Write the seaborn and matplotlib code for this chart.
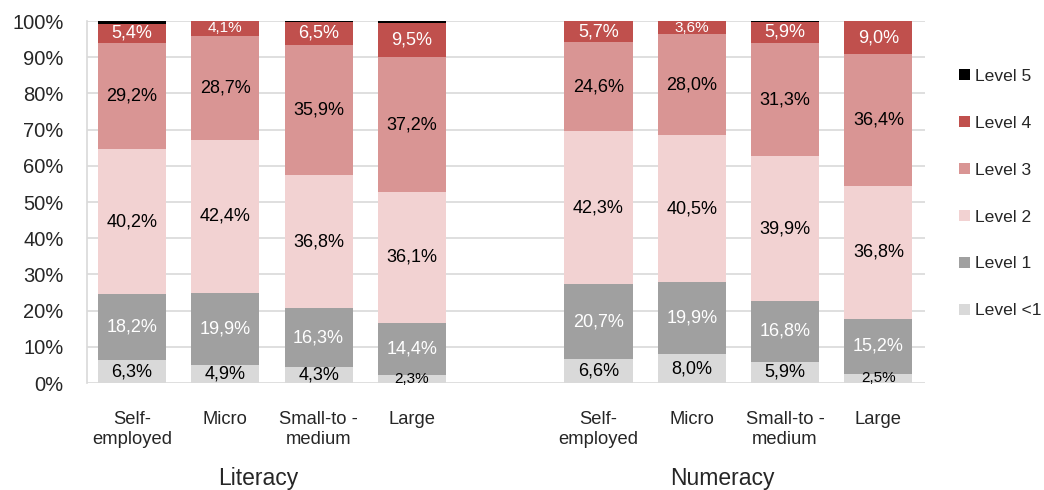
import matplotlib
matplotlib.use("Agg")
import matplotlib.pyplot as plt
import seaborn as sns
import pandas as pd
import numpy as np
from matplotlib.patches import Patch

# ---- data ----
groups = ["Literacy", "Numeracy"]
categories = ["Self-\nemployed", "Micro", "Small-to -\nmedium", "Large"]
levels = ["Level <1", "Level 1", "Level 2", "Level 3", "Level 4", "Level 5"]

lit_below1 = [6.3, 4.9, 4.3, 2.3]
lit_l1 = [18.2, 19.9, 16.3, 14.4]
lit_l2 = [40.2, 42.4, 36.8, 36.1]
lit_l3 = [29.2, 28.7, 35.9, 37.2]
lit_l4 = [5.4, 4.1, 6.5, 9.5]
lit_l5 = [0.7, 0.0, 0.2, 0.5]

num_below1 = [6.6, 8.0, 5.9, 2.5]
num_l1 = [20.7, 19.9, 16.8, 15.2]
num_l2 = [42.3, 40.5, 39.9, 36.8]
num_l3 = [24.6, 28.0, 31.3, 36.4]
num_l4 = [5.7, 3.6, 5.9, 9.0]
num_l5 = [0.1, 0.0, 0.2, 0.1]

colors = {
    "Level <1": "#d9d9d9",
    "Level 1": "#a0a0a0",
    "Level 2": "#f2d2d2",
    "Level 3": "#d99594",
    "Level 4": "#c0504d",
    "Level 5": "#000000",
}
text_colors = {"Level <1": "black", "Level 1": "white", "Level 2": "black",
               "Level 3": "black", "Level 4": "white", "Level 5": None}

# ---- build long table ----
series = {
    "Literacy": [lit_below1, lit_l1, lit_l2, lit_l3, lit_l4, lit_l5],
    "Numeracy": [num_below1, num_l1, num_l2, num_l3, num_l4, num_l5],
}
keys = []
rows = []
for g in groups:
    for i, c in enumerate(categories):
        key = f"{g}|{i}"
        keys.append(key)
        vals = [series[g][k][i] for k in range(len(levels))]
        cum = np.cumsum(vals)
        for k, lev in enumerate(levels):
            rows.append({"key": key, "level": lev, "value": vals[k],
                         "top": cum[k], "bottom": cum[k] - vals[k]})
df = pd.DataFrame(rows)

order = keys[:4] + ["__gap__"] + keys[4:]

plt.rcParams["font.family"] = ["Liberation Sans", "DejaVu Sans"]
sns.set_style("white")
plt.rcParams["font.family"] = ["Liberation Sans", "DejaVu Sans"]

fig = plt.figure(figsize=(10.44, 4.90), dpi=100)
ax = fig.add_axes([87 / 1044, 1 - 383 / 490, 838 / 1044, 362 / 490])

# draw cumulative tops, highest level first so lower ones overlay
for lev in reversed(levels):
    sub = df[df["level"] == lev]
    sns.barplot(data=sub, x="key", y="top", order=order, color=colors[lev],
                width=0.73, linewidth=0, saturation=1, ax=ax, zorder=2)

# value labels
pos_map = {k: i for i, k in enumerate(order)}
for _, r in df.iterrows():
    if r["level"] == "Level 5":
        continue
    x = pos_map[r["key"]]
    y = (r["top"] + r["bottom"]) / 2
    small = r["value"] < 4.2
    label = f"{r['value']:.1f}%".replace(".", ",")
    ax.text(x, y, label, ha="center", va="center",
            fontsize=11 if small else 13, color=text_colors[r["level"]], zorder=5)

ax.set_ylim(0, 100)
ax.set_xlim(-0.482, 8.5)
ax.set_yticks(np.arange(0, 101, 10))
ax.set_yticklabels([f"{v}%" for v in range(0, 101, 10)], fontsize=14.5)
ax.yaxis.grid(True, color="#d9d9d9", linewidth=1.2, zorder=0)
ax.set_axisbelow(True)

ticks = [pos_map[k] for k in keys]
ax.set_xticks(ticks)
ax.set_xticklabels(categories * 2, fontsize=13.2, linespacing=1.25)
ax.tick_params(axis="x", length=0, pad=20)
ax.tick_params(axis="y", length=0, pad=17)
ax.set_xlabel("")
ax.set_ylabel("")
for s in ["top", "right", "bottom"]:
    ax.spines[s].set_visible(False)
ax.spines["left"].set_color("#d9d9d9")
ax.spines["left"].set_linewidth(1.2)

# group labels
fig.text(258 / 1044, 1 - 478 / 490, "Literacy", ha="center", va="center", fontsize=16.5)
fig.text(722 / 1044, 1 - 478 / 490, "Numeracy", ha="center", va="center", fontsize=16.5)

# legend
handles = [Patch(facecolor=colors[l], edgecolor="none", label=l) for l in reversed(levels)]
fig.legend(handles=handles, loc="upper left", bbox_to_anchor=(959 / 1044, 1 - 69 / 490),
           frameon=False, fontsize=12.6, handlelength=0.6, handleheight=0.6,
           handletextpad=0.3, labelspacing=1.82, borderaxespad=0, borderpad=0)

fig.savefig("out.png", dpi=100)
